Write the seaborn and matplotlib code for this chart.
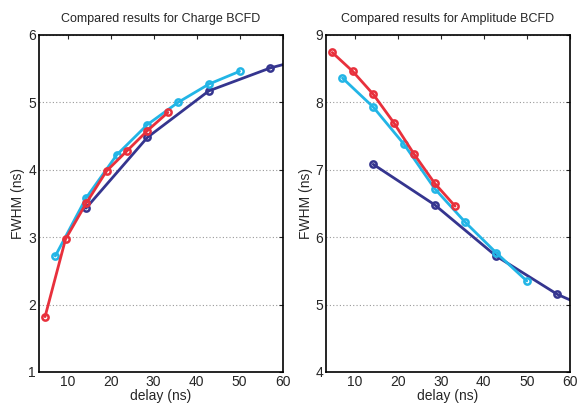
import pandas as pd
import matplotlib
matplotlib.use('Agg')
import matplotlib.pyplot as plt
import seaborn as sns

# delay (ns) for each series
x_red = [4.76, 9.52, 14.29, 19.05, 23.81, 28.57, 33.33]
x_cyan = [7.14, 14.29, 21.43, 28.57, 35.71, 42.86, 50.0]
x_blue = [14.29, 28.57, 42.86, 57.14, 71.43]

# FWHM (ns), Charge BCFD
charge_red = [1.82, 2.97, 3.50, 3.98, 4.28, 4.58, 4.85]
charge_cyan = [2.72, 3.58, 4.22, 4.67, 5.00, 5.27, 5.46]
charge_blue = [3.43, 4.48, 5.17, 5.51, 5.75]

# FWHM (ns), Amplitude BCFD
amp_red = [8.74, 8.46, 8.12, 7.70, 7.23, 6.80, 6.46]
amp_cyan = [8.36, 7.93, 7.38, 6.72, 6.22, 5.77, 5.35]
amp_blue = [7.08, 6.48, 5.72, 5.15, 4.75]

titles = ['Compared results for Charge BCFD', 'Compared results for Amplitude BCFD']

sns.set_style('white')
plt.rcParams['font.family'] = ['Liberation Sans', 'DejaVu Sans']

colores = {'red': '#e8303c', 'cyan': '#22b5e6', 'blue': '#35358f'}

fig = plt.figure(figsize=(5.79, 4.16), dpi=100)
ax1 = fig.add_axes([0.067, 0.106, 0.421, 0.81])
ax2 = fig.add_axes([0.563, 0.106, 0.421, 0.81])

datos = [
    (ax1, [(x_blue, charge_blue, 'blue'), (x_cyan, charge_cyan, 'cyan'), (x_red, charge_red, 'red')], (1, 6)),
    (ax2, [(x_blue, amp_blue, 'blue'), (x_cyan, amp_cyan, 'cyan'), (x_red, amp_red, 'red')], (4, 9)),
]

for i, (ax, series, ylim) in enumerate(datos):
    for xs, ys, c in series:
        df = pd.DataFrame({'delay': xs, 'fwhm': ys})
        sns.lineplot(data=df, x='delay', y='fwhm', ax=ax, color=colores[c], lw=2,
                     marker='o', markersize=4.5, markerfacecolor='none',
                     markeredgecolor=colores[c], markeredgewidth=1.8)
    ax.set_xlim(3.3, 60)
    ax.set_ylim(*ylim)
    ax.set_xticks([10, 20, 30, 40, 50, 60])
    ax.set_yticks(range(ylim[0], ylim[1] + 1))
    ax.yaxis.grid(True, linestyle=(0, (1, 2)), color='#999999', lw=0.8)
    ax.tick_params(direction='in', labelsize=10, length=3, pad=2,
                   top=True, right=True)
    for s in ax.spines.values():
        s.set_linewidth(1.2)
        s.set_color('black')
    ax.set_title(titles[i], fontsize=9, pad=9)
    ax.set_xlabel('delay (ns)', fontsize=10, labelpad=0)
    ax.set_ylabel('FWHM (ns)', fontsize=10, labelpad=2)

fig.savefig('out.png', dpi=100)
